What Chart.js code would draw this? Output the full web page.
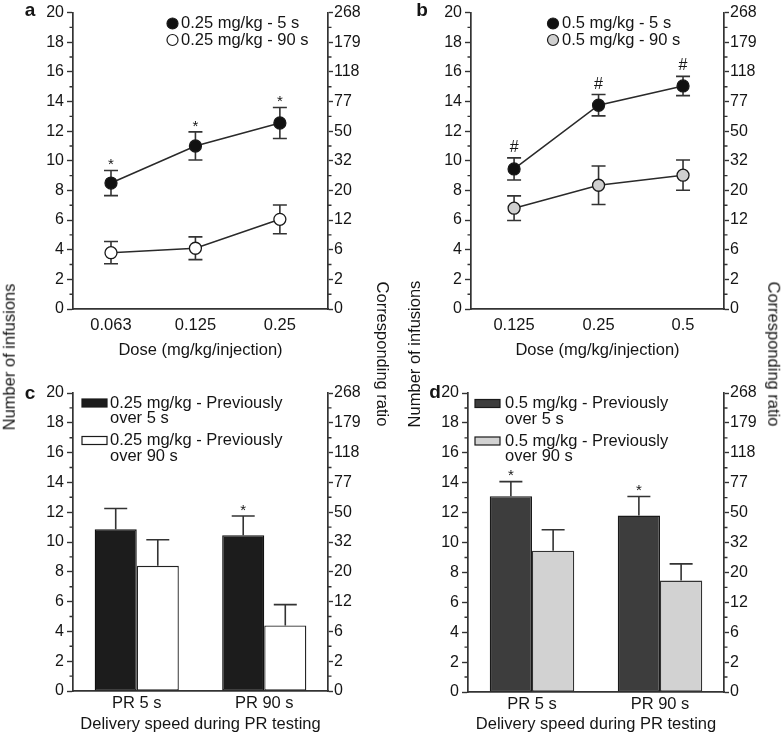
<!DOCTYPE html>
<html>
<head>
<meta charset="utf-8">
<title>Infusions by dose and delivery speed</title>
<script src="https://cdn.jsdelivr.net/npm/chart.js@4.4.1/dist/chart.umd.min.js"></script>
<style>
    body { margin: 0; background: #fff; width: 783px; height: 734px; position: relative; overflow: hidden;
           font-family: 'Liberation Sans', Arial, Helvetica, sans-serif; color: #151515; }
    .panel { position: absolute; }
    .ytitle { position: absolute; font-size: 16.5px; white-space: nowrap; line-height: 1; }
</style>
</head>
<body>
<div class="panel" style="left:0;top:0"><canvas id="chart-a" width="391" height="367"></canvas></div>
<div class="panel" style="left:391px;top:0"><canvas id="chart-b" width="392" height="367"></canvas></div>
<div class="panel" style="left:0;top:367px"><canvas id="chart-c" width="391" height="367"></canvas></div>
<div class="panel" style="left:391px;top:367px"><canvas id="chart-d" width="392" height="367"></canvas></div>

<div class="ytitle" style="left:9px;top:357px;transform:translate(-50%,-50%) rotate(-90deg)">Number of infusions</div>
<div class="ytitle" style="left:383px;top:354px;transform:translate(-50%,-50%) rotate(90deg)">Corresponding ratio</div>
<div class="ytitle" style="left:414px;top:354px;transform:translate(-50%,-50%) rotate(-90deg)">Number of infusions</div>
<div class="ytitle" style="left:774px;top:354px;transform:translate(-50%,-50%) rotate(90deg)">Corresponding ratio</div>

<script>
// 数据：a 图（0.25 mg/kg）
const doseLabelsA = ['0.063', '0.125', '0.25'];
const meanA5 = [8.5, 11.0, 12.55];
const semA5 = [0.85, 0.95, 1.05];
const sigA5 = ['*', '*', '*'];
const meanA90 = [3.8, 4.1, 6.05];
const semA90 = [0.75, 0.77, 0.97];

// 数据：b 图（0.5 mg/kg）
const doseLabelsB = ['0.125', '0.25', '0.5'];
const meanB5 = [9.45, 13.75, 15.05];
const semB5 = [0.75, 0.72, 0.65];
const sigB5 = ['#', '#', '#'];
const meanB90 = [6.8, 8.35, 9.03];
const semB90 = [0.83, 1.3, 1.02];

// 数据：c / d 图（PR 测试）
const prLabels = ['PR 5 s', 'PR 90 s'];
const meanC5 = [10.85, 10.45];
const semC5 = [1.4, 1.3];
const sigC5 = ['', '*'];
const meanC90 = [8.4, 4.4];
const semC90 = [1.75, 1.4];

const meanD5 = [13.1, 11.8];
const semD5 = [0.97, 1.28];
const sigD5 = ['*', '*'];
const meanD90 = [9.45, 7.45];
const semD90 = [1.4, 1.12];

// 右轴对应比率
const ratioLabels = ['0', '2', '6', '12', '20', '32', '50', '77', '118', '179', '268'];

const ink = '#151515';
const axisColor = '#333';
const fontFamily = "'Liberation Sans', Arial, Helvetica, sans-serif";

Chart.defaults.font.family = fontFamily;
Chart.defaults.color = ink;
Chart.defaults.animation = false;

// 误差线、显著性标记、图例、面板字母
const decorPlugin = {
    id: 'decor',
    beforeDatasetsDraw(chart, args, opts) {
        const ctx = chart.ctx;
        const yScale = chart.scales.y;
        ctx.save();
        ctx.strokeStyle = axisColor;
        ctx.lineWidth = 1.6;
        chart.data.datasets.forEach((ds, di) => {
            const meta = chart.getDatasetMeta(di);
            meta.data.forEach((el, i) => {
                const raw = ds.data[i];
                const mean = typeof raw === 'object' ? raw.y : raw;
                const err = ds.errors[i];
                const top = yScale.getPixelForValue(mean + err);
                const bottom = yScale.getPixelForValue(opts.upOnly ? mean : mean - err);
                const half = opts.cap / 2;
                ctx.beginPath();
                ctx.moveTo(el.x, top);
                ctx.lineTo(el.x, bottom);
                ctx.moveTo(el.x - half, top);
                ctx.lineTo(el.x + half, top);
                if (!opts.upOnly) {
                    ctx.moveTo(el.x - half, bottom);
                    ctx.lineTo(el.x + half, bottom);
                }
                ctx.stroke();
            });
        });
        ctx.restore();
    },
    afterDatasetsDraw(chart, args, opts) {
        const ctx = chart.ctx;
        const yScale = chart.scales.y;
        ctx.save();
        ctx.fillStyle = ink;
        ctx.textAlign = 'center';
        ctx.textBaseline = 'alphabetic';

        // 显著性标记
        chart.data.datasets.forEach((ds, di) => {
            if (!ds.marks) return;
            const meta = chart.getDatasetMeta(di);
            meta.data.forEach((el, i) => {
                const mark = ds.marks[i];
                if (!mark) return;
                const raw = ds.data[i];
                const mean = typeof raw === 'object' ? raw.y : raw;
                const top = yScale.getPixelForValue(mean + ds.errors[i]);
                if (mark === '#') {
                    ctx.font = '16px ' + fontFamily;
                    ctx.fillText(mark, el.x, top - 12 + 6);
                } else {
                    ctx.font = '15px ' + fontFamily;
                    ctx.fillText(mark, el.x, top - 10 + 8.7);
                }
            });
        });

        // 图例
        const lg = opts.legend;
        ctx.textAlign = 'left';
        ctx.textBaseline = 'middle';
        ctx.font = '16.5px ' + fontFamily;
        chart.data.datasets.forEach((ds, di) => {
            const y = lg.y + di * lg.rowGap;
            ctx.lineWidth = 1.2;
            ctx.strokeStyle = '#1a1a1a';
            if (lg.marker === 'circle') {
                ctx.beginPath();
                ctx.arc(lg.markerX, y, 5.5, 0, Math.PI * 2);
                ctx.fillStyle = ds.pointBackgroundColor;
                ctx.fill();
                ctx.stroke();
            } else {
                ctx.fillStyle = ds.backgroundColor;
                ctx.fillRect(lg.markerX, y - 4, 25, 8);
                ctx.strokeRect(lg.markerX, y - 4, 25, 8);
            }
            ctx.fillStyle = ink;
            const lines = ds.legendLines || [ds.label];
            lines.forEach((line, li) => ctx.fillText(line, lg.textX, y + li * lg.lineGap));
        });

        // 面板字母
        ctx.font = 'bold 19px ' + fontFamily;
        ctx.textAlign = 'center';
        ctx.fillText(opts.letter, opts.letterX, opts.letterY);

        // 次刻度
        ctx.strokeStyle = axisColor;
        ctx.lineWidth = 1.4;
        const left = chart.scales.y;
        const right = chart.scales.y2;
        for (let v = 1; v < 20; v += 2) {
            const py = left.getPixelForValue(v);
            ctx.beginPath();
            ctx.moveTo(left.right, py);
            ctx.lineTo(left.right - 3.5, py);
            ctx.moveTo(right.left, py);
            ctx.lineTo(right.left + 3.5, py);
            ctx.stroke();
        }
        ctx.restore();
    }
};

function yAxes(leftWidth, rightWidth) {
    const majorColor = c => (c.tick && c.tick.value % 2 === 0) ? axisColor : 'rgba(0,0,0,0)';
    return {
        y: {
            position: 'left', min: 0, max: 20,
            afterFit: s => { s.width = leftWidth; },
            ticks: { stepSize: 1, autoSkip: false, padding: 3, font: { size: 16 },
                     callback: v => (v % 2 === 0 ? String(v) : '') },
            grid: { drawOnChartArea: false, tickLength: 6, tickWidth: 1.4, tickColor: majorColor },
            border: { color: axisColor, width: 1.7 }
        },
        y2: {
            position: 'right', min: 0, max: 20,
            afterFit: s => { s.width = rightWidth; },
            ticks: { stepSize: 1, autoSkip: false, padding: 1, font: { size: 16 },
                     callback: v => (v % 2 === 0 ? ratioLabels[v / 2] : '') },
            grid: { drawOnChartArea: false, tickLength: 5, tickWidth: 1.4, tickColor: majorColor },
            border: { color: axisColor, width: 1.7 }
        }
    };
}

function lineDataset(label, means, errors, marks, fill) {
    return {
        label: label,
        data: means.map((m, i) => ({ x: i + 1, y: m })),
        errors: errors,
        marks: marks,
        borderColor: '#2a2a2a',
        borderWidth: 1.6,
        pointRadius: 6,
        pointBorderWidth: 1.3,
        pointBorderColor: '#1a1a1a',
        pointBackgroundColor: fill,
        tension: 0
    };
}

function barDataset(lines, means, errors, marks, fill, border) {
    return {
        label: lines.join(' '),
        legendLines: lines,
        data: means,
        errors: errors,
        marks: marks,
        backgroundColor: fill,
        borderColor: border,
        borderWidth: 1.3,
        borderSkipped: false,
        categoryPercentage: 0.66,
        barPercentage: 1.0
    };
}

function lineChart(id, labels, datasets, xMin, xMax, leftW, rightW, decor) {
    const scales = yAxes(leftW, rightW);
    scales.x = {
        type: 'linear', min: xMin, max: xMax,
        afterFit: s => { s.height = 58; },
        afterBuildTicks: s => { s.ticks = labels.map((_, i) => ({ value: i + 1 })); },
        ticks: { autoSkip: false, padding: 7, font: { size: 16.5 }, callback: v => labels[v - 1] },
        grid: { display: false, drawTicks: false },
        border: { color: axisColor, width: 1.7 },
        title: { display: true, text: 'Dose (mg/kg/injection)', font: { size: 16.5 }, padding: { top: 0, bottom: 7 } }
    };
    return new Chart(document.getElementById(id), {
        type: 'line',
        data: { datasets: datasets },
        options: {
            responsive: false,
            layout: { padding: { top: 10, left: 0, right: 0, bottom: 0 } },
            scales: scales,
            plugins: { legend: { display: false }, tooltip: { enabled: false }, decor: decor }
        },
        plugins: [decorPlugin]
    });
}

function barChart(id, datasets, top, xHeight, leftW, rightW, decor) {
    const scales = yAxes(leftW, rightW);
    scales.x = {
        type: 'category', offset: true,
        afterFit: s => { s.height = xHeight; },
        ticks: { padding: 3, font: { size: 16.5 } },
        grid: { display: false, drawTicks: false },
        border: { color: axisColor, width: 1.7 },
        title: { display: true, text: 'Delivery speed during PR testing', font: { size: 16.5 }, padding: { top: 0, bottom: 0 } }
    };
    return new Chart(document.getElementById(id), {
        type: 'bar',
        data: { labels: prLabels, datasets: datasets },
        options: {
            responsive: false,
            layout: { padding: { top: top, left: 0, right: 0, bottom: 0 } },
            scales: scales,
            plugins: { legend: { display: false }, tooltip: { enabled: false }, decor: decor }
        },
        plugins: [decorPlugin]
    });
}

lineChart('chart-a', doseLabelsA, [
    lineDataset('0.25 mg/kg - 5 s', meanA5, semA5, sigA5, '#111'),
    lineDataset('0.25 mg/kg - 90 s', meanA90, semA90, null, '#fff')
], 0.55, 3.57, 73, 63, {
    cap: 14, upOnly: false, letter: 'a', letterX: 30, letterY: 11,
    legend: { marker: 'circle', markerX: 172.5, textX: 181, y: 23.5, rowGap: 16.5, lineGap: 0 }
});

lineChart('chart-b', doseLabelsB, [
    lineDataset('0.5 mg/kg - 5 s', meanB5, semB5, sigB5, '#111'),
    lineDataset('0.5 mg/kg - 90 s', meanB90, semB90, null, '#cfcfcf')
], 0.49, 3.485, 80, 59, {
    cap: 14, upOnly: false, letter: 'b', letterX: 31, letterY: 11,
    legend: { marker: 'circle', markerX: 162, textX: 171, y: 23.5, rowGap: 16.5, lineGap: 0 }
});

barChart('chart-c', [
    barDataset(['0.25 mg/kg - Previously', 'over 5 s'], meanC5, semC5, sigC5, '#1c1c1c', '#111'),
    barDataset(['0.25 mg/kg - Previously', 'over 90 s'], meanC90, semC90, null, '#fff', '#222')
], 26, 43, 73, 63, {
    cap: 23, upOnly: true, letter: 'c', letterX: 30, letterY: 27,
    legend: { marker: 'rect', markerX: 82, textX: 110, y: 36, rowGap: 37.5, lineGap: 15.5 }
});

barChart('chart-d', [
    barDataset(['0.5 mg/kg - Previously', 'over 5 s'], meanD5, semD5, sigD5, '#3d3d3d', '#1a1a1a'),
    barDataset(['0.5 mg/kg - Previously', 'over 90 s'], meanD90, semD90, null, '#d2d2d2', '#333')
], 26, 42, 77, 59, {
    cap: 23, upOnly: true, letter: 'd', letterX: 44, letterY: 26,
    legend: { marker: 'rect', markerX: 84, textX: 114, y: 36.5, rowGap: 37.5, lineGap: 15.5 }
});
</script>
</body>
</html>
